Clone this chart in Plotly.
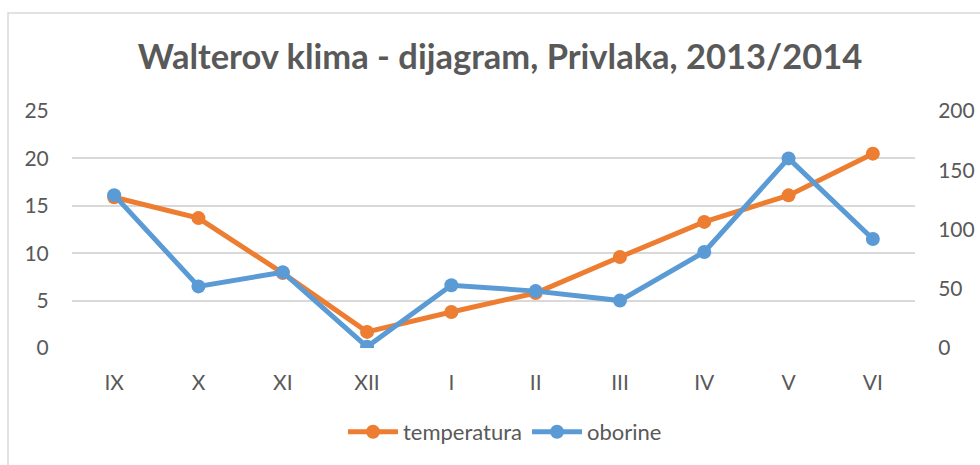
import plotly.graph_objects as go

months = ["IX", "X", "XI", "XII", "I", "II", "III", "IV", "V", "VI"]
temperatura = [15.9, 13.7, 7.9, 1.7, 3.8, 5.8, 9.6, 13.3, 16.1, 20.5]
oborine = [129, 52, 64, 1, 53, 48, 40, 81, 160, 92]

left_ticks = [0, 5, 10, 15, 20, 25]
right_ticks = [0, 50, 100, 150, 200]

ORANGE = "#ED7D31"
BLUE = "#5B9BD5"
GREY = "#595959"
FONT = "Lato"

fig = go.Figure()
fig.add_trace(go.Scatter(
    x=months, y=temperatura, name="temperatura", mode="lines+markers",
    line=dict(color=ORANGE, width=5), marker=dict(color=ORANGE, size=14),
    yaxis="y"))
fig.add_trace(go.Scatter(
    x=months, y=oborine, name="oborine", mode="lines+markers",
    line=dict(color=BLUE, width=5), marker=dict(color=BLUE, size=14),
    yaxis="y2"))

W, H = 980, 465
L, R, T, B = 72, 65, 111, 117
pw, ph = W - L - R, H - T - B

def px(x):
    return (x - L) / pw

def py(y):
    return (H - B - y) / ph

fig.update_layout(
    width=W, height=H,
    margin=dict(l=L, r=R, t=T, b=B, autoexpand=False),
    paper_bgcolor="white", plot_bgcolor="white",
    font=dict(family=FONT, color=GREY, size=21),
    title=dict(text="<b>Walterov klima - dijagram, Privlaka, 2013/2014</b>",
               x=px(500), xref="paper", xanchor="center",
               y=1 - 57 / H, yanchor="middle",
               font=dict(family=FONT, size=34.5, color=GREY)),
    xaxis=dict(type="category", range=[-0.5, len(months) - 0.5],
               showgrid=False, zeroline=False,
               showline=False, ticks="outside", ticklen=16,
               tickcolor="rgba(0,0,0,0)", tickfont=dict(size=21, color=GREY)),
    yaxis=dict(range=[0, 25], tickvals=left_ticks, showgrid=True,
               gridcolor="#D9D9D9", gridwidth=1.5, zeroline=False,
               ticks="outside", ticklen=18, tickcolor="rgba(0,0,0,0)",
               tickfont=dict(size=21, color=GREY)),
    yaxis2=dict(range=[0, 200], tickvals=right_ticks, overlaying="y",
                side="right", showgrid=False, zeroline=False,
                ticks="outside", ticklen=18, tickcolor="rgba(0,0,0,0)",
                tickfont=dict(size=21, color=GREY)),
    legend=dict(orientation="h", x=px(505), xanchor="center",
                y=py(432), yanchor="middle",
                font=dict(size=22, color=GREY), itemwidth=50,
                bgcolor="rgba(0,0,0,0)"),
    showlegend=True,
    shapes=[dict(type="rect", xref="paper", yref="paper",
                 x0=px(8), x1=px(1010), y0=py(467), y1=py(13),
                 line=dict(color="#D9D9D9", width=1.5), layer="below")],
)

fig.write_html(
    "out.html",
    config={"displayModeBar": False},
    post_script="document.body.style.margin='0';"
                "document.body.style.overflow='hidden';",
)
